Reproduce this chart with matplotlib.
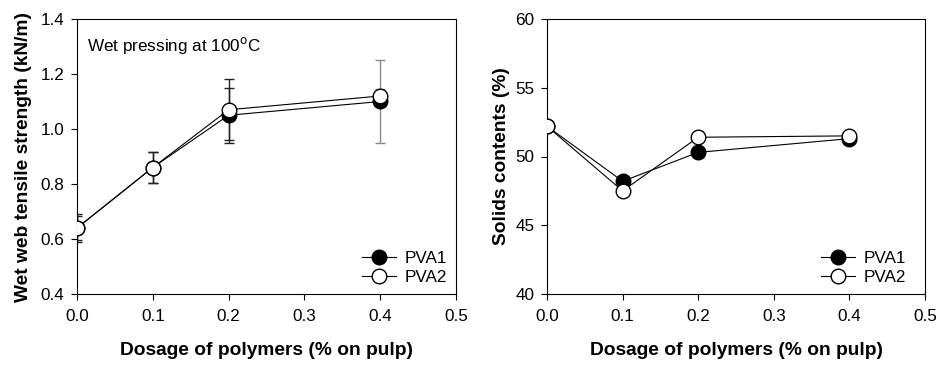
import matplotlib
matplotlib.use("Agg")
import matplotlib.pyplot as plt

plt.rcParams['font.family'] = ['Liberation Sans', 'DejaVu Sans']

dosage = [0.0, 0.1, 0.2, 0.4]
tensile_pva1 = [0.64, 0.86, 1.05, 1.10]
tensile_pva2 = [0.64, 0.86, 1.07, 1.12]
tensile_err1 = [0.05, 0.057, 0.10, 0.15]
tensile_err2 = [0.045, 0.057, 0.11, 0.025]
solids_pva1 = [52.2, 48.2, 50.3, 51.3]
solids_pva2 = [52.2, 47.5, 51.4, 51.5]
xticks = [0.0, 0.1, 0.2, 0.3, 0.4, 0.5]

W, H = 942, 366
fig = plt.figure(figsize=(W/100, H/100), dpi=100)
ax1 = fig.add_axes([77/W, (H-294)/H, 379/W, 275/H])
ax2 = fig.add_axes([547/W, (H-294)/H, 378/W, 275/H])

ms = 10.5
lw = 0.8
err_colors = ['#222222', '#222222', '#222222', '#888888']

# left panel
for i, x in enumerate(dosage):
    for yv, ev in ((tensile_pva1, tensile_err1), (tensile_pva2, tensile_err2)):
        ax1.errorbar([x], [yv[i]], yerr=[ev[i]], fmt='none', ecolor=err_colors[i],
                     elinewidth=1.0, capsize=3.6, capthick=1.0, zorder=1)
ax1.plot(dosage, tensile_pva1, '-o', color='black', mfc='black', mec='black',
         ms=ms, lw=lw, label='PVA1', zorder=3)
ax1.plot(dosage, tensile_pva2, '-o', color='black', mfc='white', mec='black',
         ms=ms, lw=lw, label='PVA2', zorder=4)
ax1.set_ylim(0.4, 1.4)
ax1.set_yticks([0.4, 0.6, 0.8, 1.0, 1.2, 1.4])
ax1.set_yticklabels(['0.4', '0.6', '0.8', '1.0', '1.2', '1.4'])
ax1.set_ylabel('Wet web tensile strength (kN/m)', fontsize=13.8, fontweight='bold', labelpad=6)
ax1.text(0.026, 0.905, 'Wet pressing at 100$^{\\mathrm{o}}$C', transform=ax1.transAxes,
         fontsize=12.3, ha='left', va='center')

# right panel
ax2.plot(dosage, solids_pva1, '-o', color='black', mfc='black', mec='black',
         ms=ms, lw=lw, label='PVA1', zorder=3)
ax2.plot(dosage, solids_pva2, '-o', color='black', mfc='white', mec='black',
         ms=ms, lw=lw, label='PVA2', zorder=4)
ax2.set_ylim(40, 60)
ax2.set_yticks([40, 45, 50, 55, 60])
ax2.set_ylabel('Solids contents (%)', fontsize=13.8, fontweight='bold', labelpad=4)

for ax, anchor in ((ax1, (1.0, 0.0)), (ax2, (0.975, 0.0))):
    ax.set_xlim(0.0, 0.5)
    ax.set_xticks(xticks)
    ax.set_xticklabels([f'{v:.1f}' for v in xticks])
    ax.set_xlabel('Dosage of polymers (% on pulp)', fontsize=13.8, fontweight='bold', labelpad=13)
    ax.tick_params(axis='both', direction='out', length=4, width=0.8, labelsize=12.3,
                   top=False, right=False)
    ax.tick_params(axis='x', pad=7)
    ax.tick_params(axis='y', pad=5)
    for s in ax.spines.values():
        s.set_linewidth(0.8)
    ax.legend(loc='lower right', bbox_to_anchor=anchor, frameon=False, fontsize=12.3,
              handlelength=2.0, handletextpad=0.5, borderaxespad=0.15, labelspacing=0.2)

fig.savefig('out.png', dpi=100)
